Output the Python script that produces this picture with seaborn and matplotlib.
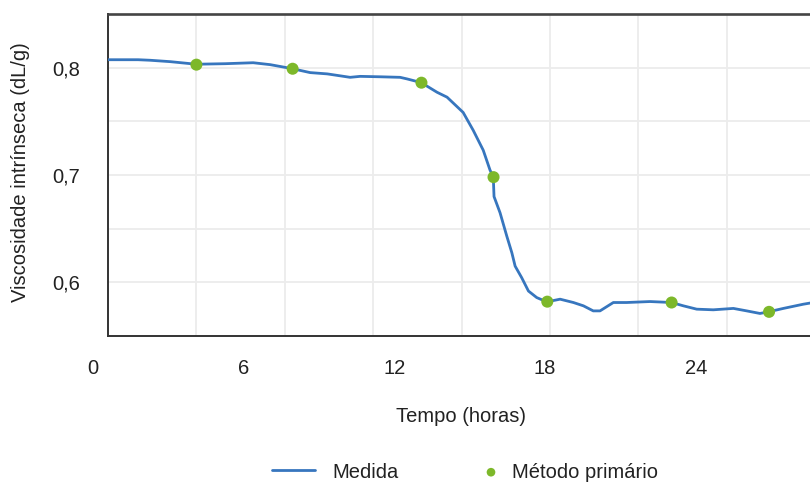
import numpy as np
import pandas as pd
import matplotlib
matplotlib.use("Agg")
import matplotlib.pyplot as plt
import matplotlib.transforms as mtransforms
import seaborn as sns

# Continuous in-line measurement of intrinsic viscosity
hours_measured = [0.61, 1.80, 2.28, 3.08, 4.11, 5.27, 6.38, 7.06, 7.93, 8.65,
                  9.33, 10.24, 10.64, 11.44, 12.23, 12.51, 13.07, 13.70, 14.10, 14.74,
                  15.14, 15.54, 15.81, 15.94, 15.97, 16.21, 16.48, 16.68, 16.81, 17.07,
                  17.34, 17.67, 18.07, 18.60, 19.13, 19.53, 19.92, 20.19, 20.72, 21.25,
                  22.18, 23.04, 23.51, 24.04, 24.70, 25.50, 26.03, 26.56, 26.89, 27.49,
                  28.28, 28.63]
visc_measured = [0.8074, 0.8074, 0.8069, 0.8056, 0.8032, 0.8037, 0.8046, 0.8028, 0.7991, 0.7954,
                 0.7942, 0.7910, 0.7919, 0.7915, 0.7910, 0.7895, 0.7861, 0.7771, 0.7725, 0.7583,
                 0.7417, 0.7231, 0.7046, 0.6981, 0.6799, 0.6648, 0.6429, 0.6275, 0.6151, 0.6044,
                 0.5919, 0.5858, 0.5818, 0.5843, 0.5812, 0.5781, 0.5734, 0.5734, 0.5812, 0.5812,
                 0.5821, 0.5812, 0.5781, 0.5750, 0.5744, 0.5757, 0.5734, 0.5710, 0.5725, 0.5757,
                 0.5796, 0.5810]

# Reference laboratory (primary method) samples
hours_primary = [4.12, 7.95, 13.08, 15.95, 18.09, 23.04, 26.92]
visc_primary = [0.8028, 0.7990, 0.7860, 0.6980, 0.5820, 0.5812, 0.5725]

hour_ticks = [0, 6, 12, 18, 24]
visc_ticks = [0.6, 0.7, 0.8]

line_color = "#3776BE"
dot_color = "#7DB82A"
text_color = "#222222"
fs = 14.5

sns.set_theme(style="white")
plt.rcParams["font.family"] = ["Liberation Sans", "DejaVu Sans"]
plt.rcParams["text.color"] = text_color

measured = pd.DataFrame({"Tempo": hours_measured, "Viscosidade": visc_measured})
primary = pd.DataFrame({"Tempo": hours_primary, "Viscosidade": visc_primary})

fig = plt.figure(figsize=(8.10, 4.84), dpi=100)
W, H = 810, 484
ax = fig.add_axes([108 / W, (H - 336) / H, (812 - 108) / W, 322 / H])

sns.lineplot(data=measured, x="Tempo", y="Viscosidade", ax=ax, color=line_color,
             linewidth=2.0, label="Medida", zorder=3, legend=False)
sns.scatterplot(data=primary, x="Tempo", y="Viscosidade", ax=ax, color=dot_color,
                s=75, edgecolor="none", label="Método primário", zorder=4, legend=False)

x0, x1 = 0.6, 28.63
ax.set_xlim(x0, x1)
ax.set_ylim(0.55, 0.85)

# Grid: vertical lines on a fixed step, horizontal every 0.05
ax.set_xticks([x0 + 3.52 * k for k in range(1, 8)])
ax.set_xticklabels([])
ygrid = np.round(np.arange(0.55, 0.8501, 0.05), 2)
ax.set_yticks(ygrid)
ax.set_yticklabels([f"{v:.1f}".replace(".", ",") if any(abs(v - t) < 1e-9 for t in visc_ticks) else ""
                    for v in ygrid])
ax.grid(True, color="#ececec", linewidth=1.3)
ax.tick_params(axis="both", length=0)
ax.tick_params(axis="y", pad=20, labelsize=fs, labelcolor=text_color)

# Hour labels under the axis
trans = mtransforms.blended_transform_factory(ax.transData, ax.transAxes)
for h in hour_ticks:
    ax.text(h, -0.10, str(h), transform=trans, ha="center", va="center",
            fontsize=fs, color=text_color, clip_on=False)

for side in ["left", "bottom", "top"]:
    ax.spines[side].set_color("#333333")
    ax.spines[side].set_linewidth(1.4)
ax.spines["top"].set_color("#444444")
ax.spines["top"].set_linewidth(1.9)
ax.spines["right"].set_visible(False)

ax.set_xlabel("")
ax.set_ylabel("")
fig.text(461 / W, 1 - 417 / H, "Tempo (horas)", ha="center", va="center",
         fontsize=fs, color=text_color)
fig.text(21 / W, 1 - 172 / H, "Viscosidade intrínseca (dL/g)", ha="center", va="center",
         rotation=90, fontsize=fs, color=text_color)

# Legend entries placed side by side below the chart
handles, labels = ax.get_legend_handles_labels()
em = fs * 100 / 72
fig.legend([handles[0]], [labels[0]], loc="center left",
           bbox_to_anchor=(272 / W, 1 - 472 / H), frameon=False, fontsize=fs,
           borderpad=0, borderaxespad=0, handlelength=43 / em,
           handletextpad=17 / em)
fig.legend([handles[1]], [labels[1]], loc="center left",
           bbox_to_anchor=(481 / W, 1 - 472 / H), frameon=False, fontsize=fs,
           borderpad=0, borderaxespad=0, handlelength=20 / em,
           handletextpad=11 / em, markerscale=0.72)

fig.savefig("out.png", dpi=100)
